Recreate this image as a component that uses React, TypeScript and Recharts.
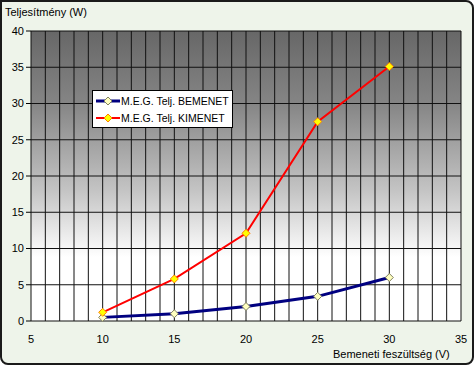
import { CartesianGrid, Legend, Line, LineChart, XAxis, YAxis } from "recharts"

const voltages = [10, 15, 20, 25, 30]
const bemenet = [0.5, 1.0, 2.0, 3.4, 6.0]
const kimenet = [1.2, 5.8, 12.1, 27.5, 35.1]
const xTicks = [5, 6, 7, 8, 9, 10, 11, 12, 13, 14, 15, 16, 17, 18, 19, 20, 21, 22, 23, 24, 25, 26, 27, 28, 29, 30, 31, 32, 33, 34, 35]
const yTicks = [0, 5, 10, 15, 20, 25, 30, 35, 40]

const data = voltages.map((v, i) => ({ v, bemenet: bemenet[i], kimenet: kimenet[i] }))

const font = "'Liberation Sans', Arial, sans-serif"

function Diamond(props: any) {
  const { cx, cy, fill, stroke } = props
  if (cx == null || cy == null) return null
  const r = 4
  return (
    <path
      d={`M${cx},${cy - r} L${cx + r},${cy} L${cx},${cy + r} L${cx - r},${cy} Z`}
      fill={fill}
      stroke={stroke}
      strokeWidth={1}
    />
  )
}

function LegendBox() {
  const items = [
    { label: "M.E.G. Telj. BEMENET", color: "#000080", width: 3, fill: "#ffffc0", stroke: "#808060" },
    { label: "M.E.G. Telj. KIMENET", color: "#ff0000", width: 2, fill: "#ffff00", stroke: "#ff8000" },
  ]
  return (
    <div
      style={{
        background: "#fff",
        border: "1px solid #000",
        padding: "1px 3px 1px 3px",
        fontFamily: font,
        fontSize: 10.5,
        color: "#000",
      }}
    >
      {items.map((it) => (
        <div key={it.label} style={{ display: "flex", alignItems: "center", height: 17 }}>
          <svg width={24} height={12} style={{ marginRight: 1 }}>
            <line x1={0} y1={6} x2={24} y2={6} stroke={it.color} strokeWidth={it.width} />
            <path d="M12,2 L16,6 L12,10 L8,6 Z" fill={it.fill} stroke={it.stroke} />
          </svg>
          <span>{it.label}</span>
        </div>
      ))}
    </div>
  )
}

export default function App() {
  return (
    <div
      style={{
        position: "absolute",
        left: 0,
        top: 0,
        width: 474,
        height: 365,
        boxSizing: "border-box",
        border: "2px solid #1a1a1a",
        borderRadius: "0 8px 8px 8px",
        background: "#eef4ea",
        overflow: "hidden",
      }}
    >
      <div
        style={{
          position: "absolute",
          left: 3,
          top: 4,
          fontFamily: font,
          fontSize: 11,
          color: "#000",
        }}
      >
        Teljesítmény (W)
      </div>
      <div
        style={{
          position: "absolute",
          left: 331,
          top: 346,
          fontFamily: font,
          fontSize: 11,
          color: "#000",
        }}
      >
        Bemeneti feszültség (V)
      </div>
      <div style={{ position: "absolute", left: -2, top: -2 }}>
        <LineChart width={474} height={365} data={data} margin={{ top: 31, right: 13, bottom: 14, left: 0 }}>
          <defs>
            <linearGradient id="bg" x1="0" y1="0" x2="0" y2="1">
              <stop offset="0%" stopColor="#676767" />
              <stop offset="25%" stopColor="#858585" />
              <stop offset="55%" stopColor="#c4c4c4" />
              <stop offset="78%" stopColor="#ffffff" />
              <stop offset="100%" stopColor="#ffffff" />
            </linearGradient>
          </defs>
          <CartesianGrid stroke="#111" strokeWidth={1} fill="url(#bg)" fillOpacity={1} />
          <XAxis
            dataKey="v"
            type="number"
            domain={[5, 35]}
            ticks={xTicks}
            interval={0}
            tickFormatter={(t: number) => (t % 5 === 0 ? String(t) : "")}
            tickLine={false}
            axisLine={false}
            height={30}
            tick={{ fill: "#000", fontSize: 11, fontFamily: font }}
            tickMargin={8}
          />
          <YAxis
            type="number"
            domain={[0, 40]}
            ticks={yTicks}
            interval={0}
            width={31}
            axisLine={false}
            tickLine={{ stroke: "#000" }}
            tickSize={5}
            tick={{ fill: "#000", fontSize: 11, fontFamily: font }}
          />
          <Legend
            content={<LegendBox />}
            layout="vertical"
            align="center"
            verticalAlign="middle"
            wrapperStyle={{ left: 92, top: 90, width: "auto" }}
          />
          <Line
            dataKey="bemenet"
            stroke="#000080"
            strokeWidth={3}
            dot={<Diamond fill="#ffffc0" stroke="#808060" />}
            isAnimationActive={false}
          />
          <Line
            dataKey="kimenet"
            stroke="#ff0000"
            strokeWidth={2}
            dot={<Diamond fill="#ffff00" stroke="#ff8000" />}
            isAnimationActive={false}
          />
        </LineChart>
      </div>
    </div>
  )
}
